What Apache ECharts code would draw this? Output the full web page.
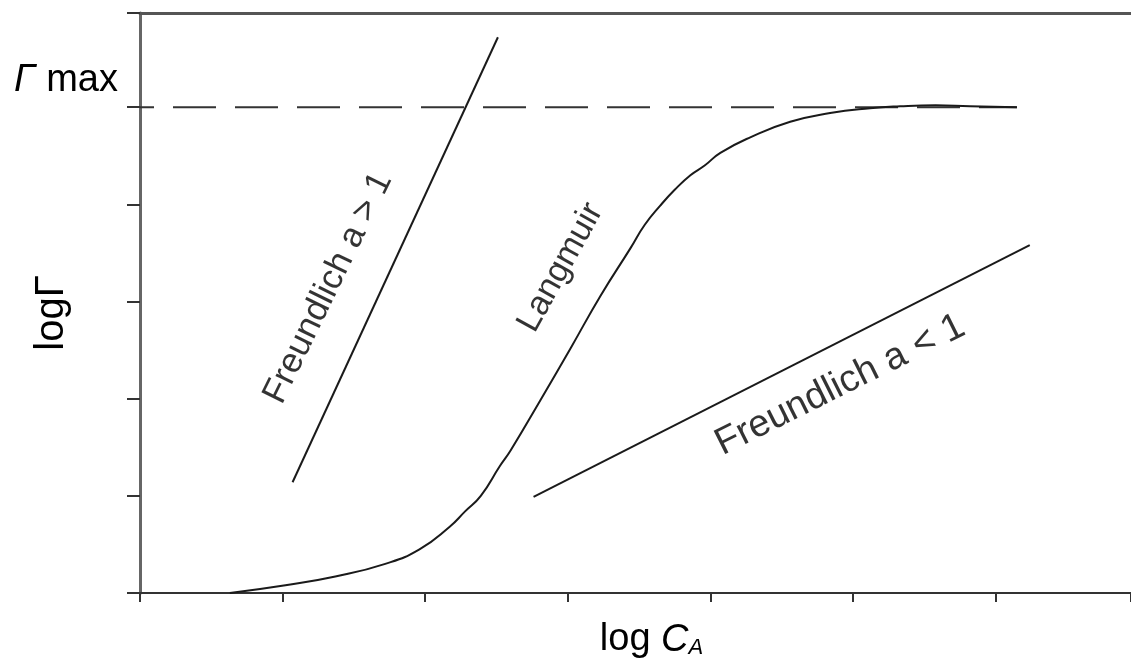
<!DOCTYPE html>
<html>
<head>
<meta charset="utf-8">
<script src="https://cdn.jsdelivr.net/npm/echarts@6/dist/echarts.min.js"></script>
<style>
html,body{margin:0;padding:0;background:#fff;}
#chart{width:1131px;height:661px;}
</style>
</head>
<body>
<div id="chart"></div>
<script>
// ---- data ----
const langmuirX = [0.63, 1.02, 1.37, 1.72, 1.96, 2.17, 2.28, 2.39, 2.525, 2.60, 2.81, 3.02, 3.23, 3.44, 3.54, 3.65, 3.75, 3.86, 3.96, 4.07, 4.28, 4.56, 4.84, 5.12, 5.33, 5.58, 5.82, 6.15];
const langmuirY = [0.0, 0.08, 0.17, 0.30, 0.45, 0.68, 0.84, 1.00, 1.31, 1.47, 1.99, 2.52, 3.06, 3.55, 3.79, 3.99, 4.15, 4.30, 4.40, 4.53, 4.69, 4.85, 4.94, 4.99, 5.01, 5.02, 5.01, 5.00];
const freundGtX = [1.07, 2.51];
const freundGtY = [1.14, 5.72];
const freundLtX = [2.76, 6.24];
const freundLtY = [0.99, 3.58];
const gammaMaxX = [0, 6.15];
const gammaMaxLevel = 5;
const curveNames = ['Freundlich a > 1', 'Langmuir', 'Freundlich a < 1'];
const curveNameX = [1.32, 2.95, 4.91];
const curveNameY = [3.14, 3.35, 2.14];
const yTickLabels = {5: 'Γ max'};

const zip = (xs, ys) => xs.map((x, i) => [x, ys[i]]);
const FONT = 'Liberation Sans';
const INK = '#1a1a1a';
const TXT = '#000';
const labelAngles = [64, 61, 26.5];
const labelSizes = [35, 34, 38];

const chart = echarts.init(document.getElementById('chart'), null, {renderer: 'canvas'});
const lineBase = {
  type: 'line', showSymbol: false, symbol: 'none', silent: true, animation: false,
  lineStyle: {color: INK, width: 2}
};
chart.setOption({
  animation: false,
  backgroundColor: '#fff',
  grid: {left: 140, right: 0, top: 13, bottom: 68, containLabel: false, outerBoundsMode: 'none'},
  xAxis: [{
    type: 'value', min: 0, max: 6.95, interval: 1,
    axisLine: {show: true, onZero: false, lineStyle: {color: '#333', width: 2}},
    axisTick: {show: true, length: 9, lineStyle: {color: '#333', width: 2}},
    axisLabel: {show: false},
    splitLine: {show: false},
    name: 'log {i|C}{s|A}',
    nameLocation: 'middle', nameGap: 28, nameMoveOverlap: false,
    nameTextStyle: {
      fontFamily: FONT, fontSize: 38, color: TXT, padding: [0, 0, 0, 32],
      rich: {
        i: {fontFamily: FONT, fontSize: 38, fontStyle: 'italic', color: TXT},
        s: {fontFamily: FONT, fontSize: 22, fontStyle: 'italic', color: TXT, verticalAlign: 'bottom', padding: [16, 0, 0, 0]}
      }
    }
  }, {
    type: 'value', position: 'top', min: 0, max: 6.95, interval: 1,
    axisLine: {show: true, onZero: false, lineStyle: {color: '#555', width: 3}},
    axisTick: {show: false}, axisLabel: {show: false}, splitLine: {show: false}
  }],
  yAxis: [{
    type: 'value', min: 0, max: 5.97, interval: 1,
    axisLine: {show: true, onZero: false, lineStyle: {color: '#666', width: 3}},
    axisTick: {show: true, length: 13, lineStyle: {color: '#333', width: 2}},
    splitLine: {show: false},
    axisLabel: {
      show: true, margin: 22, verticalAlign: 'bottom', padding: [0, 0, 8, 0],
      fontFamily: FONT, fontSize: 38, color: TXT,
      formatter: v => yTickLabels[v] ? '{i|Γ}' + yTickLabels[v].slice(1) : '',
      rich: {i: {fontFamily: FONT, fontSize: 38, fontStyle: 'italic', color: TXT}}
    },
    name: 'logΓ', nameLocation: 'middle', nameGap: 68, nameRotate: 90, nameMoveOverlap: false,
    nameTextStyle: {fontFamily: FONT, fontSize: 40, color: TXT, padding: [0, 20, 0, 0]}
  }],
  series: [
    Object.assign({}, lineBase, {name: 'gammaMax', data: zip(gammaMaxX, gammaMaxX.map(() => gammaMaxLevel)),
      lineStyle: {color: '#333', width: 2, type: [43, 19], dashOffset: 29}}),
    Object.assign({}, lineBase, {name: 'Langmuir', data: zip(langmuirX, langmuirY), smooth: 0.5}),
    Object.assign({}, lineBase, {name: 'FreundlichGt', data: zip(freundGtX, freundGtY)}),
    Object.assign({}, lineBase, {name: 'FreundlichLt', data: zip(freundLtX, freundLtY)}),
    {
      type: 'scatter', symbolSize: 0, silent: true, animation: false,
      data: curveNames.map((n, i) => ({
        name: n, value: [curveNameX[i], curveNameY[i]],
        label: {rotate: labelAngles[i], fontSize: labelSizes[i]}
      })),
      label: {
        show: true, position: 'inside', formatter: p => p.name,
        fontFamily: FONT, fontSize: 34, color: TXT, align: 'center', verticalAlign: 'middle'
      },
      labelLayout: {hideOverlap: false}
    }
  ]
});
</script>
</body>
</html>
